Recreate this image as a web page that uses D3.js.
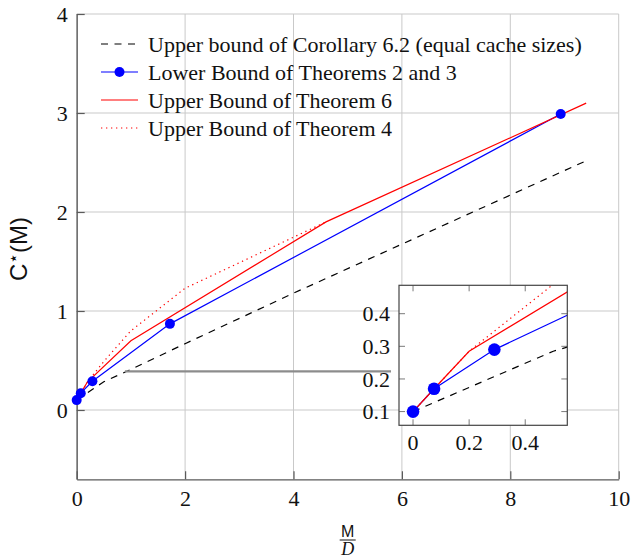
<!DOCTYPE html>
<html>
<head>
<meta charset="utf-8">
<script src="https://cdn.jsdelivr.net/npm/d3@7"></script>
<style>
body{margin:0;background:#fff}
svg{display:block}
.serif{font-family:"Liberation Serif","Times New Roman",serif}
</style>
</head>
<body>
<script>
// values
var xTicks=[0,2,4,6,8,10]
var yTicks=[0,1,2,3,4]
var insetXTicks=[0,0.2,0.4]
var insetYTicks=[0.1,0.2,0.3,0.4]

var dashX=[0,0.5,1,2,4,9.45]
var dashY=[0.1,0.285,0.41,0.67,1.18,2.53]
var blueX=[0,0.075,0.29,1.72,8.93]
var blueY=[0.1,0.17,0.29,0.87,2.99]
var redX=[0,0.075,0.2,1,4.6,9.4]
var redY=[0.1,0.17,0.285,0.70,1.9,3.1]
var dotX=[0,0.075,0.2,0.5,1,2,4.6]
var dotY=[0.1,0.17,0.285,0.49,0.8,1.23,1.9]

var legendNames=["Upper bound of Corollary 6.2 (equal cache sizes)","Lower Bound of Theorems 2 and 3","Upper Bound of Theorem 6","Upper Bound of Theorem 4"]

var zipPts=function(xs,ys){return xs.map(function(d,i){return [d,ys[i]]})}
var series=[
  {pts:zipPts(dashX,dashY),color:"#000",dash:"7,6.5",marker:false},
  {pts:zipPts(blueX,blueY),color:"#0000ff",dash:null,marker:true},
  {pts:zipPts(redX,redY),color:"#ff0000",dash:null,marker:false},
  {pts:zipPts(dotX,dotY),color:"#ff0000",dash:"1.3,3.7",marker:false}
]

var W=632,H=559
var svg=d3.select("body").append("svg").attr("width",W).attr("height",H)

var x=d3.scaleLinear().domain([0,10]).range([76.7,618.7])
var y=d3.scaleLinear().domain([-0.7,4]).range([479.3,14])

var gridColor="#c9c9c9", axisColor="#5a5a5a"

// grid
svg.append("g").selectAll("line").data(xTicks).enter().append("line")
   .attr("x1",function(d){return x(d)}).attr("x2",function(d){return x(d)})
   .attr("y1",y(-0.7)).attr("y2",y(4))
   .attr("stroke",gridColor).attr("stroke-width",1)
svg.append("g").selectAll("line").data(yTicks).enter().append("line")
   .attr("y1",function(d){return y(d)}).attr("y2",function(d){return y(d)})
   .attr("x1",x(0)).attr("x2",x(10))
   .attr("stroke",gridColor).attr("stroke-width",1)

// axes with inward ticks
var xAxis=svg.append("g").attr("transform","translate(0,"+y(-0.7)+")")
   .call(d3.axisBottom(x).tickValues(xTicks).tickFormat(d3.format("d")).tickSizeInner(-8).tickSizeOuter(0).tickPadding(11))
var yAxis=svg.append("g").attr("transform","translate("+x(0)+",0)")
   .call(d3.axisLeft(y).tickValues(yTicks).tickFormat(d3.format("d")).tickSizeInner(-8).tickSizeOuter(0).tickPadding(9))
;[xAxis,yAxis].forEach(function(a){
  a.select(".domain").attr("stroke",axisColor).attr("stroke-width",1.3)
  a.selectAll(".tick line").attr("stroke",axisColor).attr("stroke-width",1.2)
  a.selectAll("text").attr("class","serif").attr("font-size",22).attr("fill","#111")
})
xAxis.selectAll("text").attr("dy","0.71em")
yAxis.selectAll("text").attr("dy","0.35em")

// axis labels
var ylab=svg.append("text").attr("transform","translate(27,249) rotate(-90)")
   .attr("text-anchor","middle").attr("font-family","Liberation Sans, Arial, sans-serif")
   .attr("font-size",24).attr("fill","#111")
ylab.append("tspan").text("C")
ylab.append("tspan").text("⋆").attr("font-family","DejaVu Sans").attr("font-size",17).attr("dy",-8)
ylab.append("tspan").text("(M)").attr("dy",8)

var xm=(x(0)+x(10))/2
svg.append("text").attr("x",xm).attr("y",537).attr("text-anchor","middle")
   .attr("font-family","Liberation Sans, Arial, sans-serif").attr("font-size",16).attr("fill","#111").text("M")
svg.append("line").attr("x1",xm-8).attr("x2",xm+8).attr("y1",540).attr("y2",540)
   .attr("stroke","#111").attr("stroke-width",1)
svg.append("text").attr("x",xm).attr("y",555).attr("text-anchor","middle").attr("class","serif")
   .attr("font-style","italic").attr("font-size",18).attr("fill","#111").text("D")

// main curves
var mainLine=d3.line().x(function(d){return x(d[0])}).y(function(d){return y(d[1])})
var mainG=svg.append("g")
series.forEach(function(s){
  mainG.append("path").attr("d",mainLine(s.pts)).attr("fill","none")
     .attr("stroke",s.color).attr("stroke-width",1.2)
     .attr("stroke-dasharray",s.dash)
})
series.filter(function(s){return s.marker}).forEach(function(s){
  mainG.selectAll(null).data(s.pts).enter().append("circle")
     .attr("cx",function(d){return x(d[0])}).attr("cy",function(d){return y(d[1])})
     .attr("r",5).attr("fill",s.color)
})

// legend
var legend=svg.append("g").attr("transform","translate(101,44)")
legendNames.forEach(function(name,i){
  var s=series[i], g=legend.append("g").attr("transform","translate(0,"+(i*28)+")")
  g.append("line").attr("x1",0).attr("x2",37).attr("y1",0).attr("y2",0)
   .attr("stroke",s.color).attr("stroke-width",1.2).attr("stroke-dasharray",s.dash)
  if(s.marker){g.append("circle").attr("cx",18.5).attr("cy",0).attr("r",5).attr("fill",s.color)}
  g.append("text").attr("x",47).attr("y",8).attr("class","serif").attr("font-size",22)
   .attr("fill","#111").text(name)
})

// inset
var xi=d3.scaleLinear().domain([-0.05,0.55]).range([399,567.3])
var yi=d3.scaleLinear().domain([0.058,0.487]).range([425.3,285.3])

// connector line to inset
svg.append("line").attr("x1",x(0.89)).attr("x2",xi(-0.05)-8)
   .attr("y1",y(0.39)).attr("y2",y(0.39))
   .attr("stroke","#8c8c8c").attr("stroke-width",2.2)

var inset=svg.append("g")
inset.append("rect").attr("x",xi(-0.05)).attr("y",yi(0.487))
   .attr("width",xi(0.55)-xi(-0.05)).attr("height",yi(0.058)-yi(0.487)).attr("fill","#fff")
svg.append("clipPath").attr("id","insetClip").append("rect")
   .attr("x",xi(-0.05)).attr("y",yi(0.487))
   .attr("width",xi(0.55)-xi(-0.05)).attr("height",yi(0.058)-yi(0.487))

var tickCol="#7a7a7a"
var ticksG=inset.append("g")
insetXTicks.forEach(function(t){
  ticksG.append("line").attr("x1",xi(t)).attr("x2",xi(t)).attr("y1",yi(0.058)).attr("y2",yi(0.058)-6).attr("stroke",tickCol)
  ticksG.append("line").attr("x1",xi(t)).attr("x2",xi(t)).attr("y1",yi(0.487)).attr("y2",yi(0.487)+6).attr("stroke",tickCol)
  inset.append("text").attr("x",xi(t)).attr("y",yi(0.058)+17).attr("dy","0.35em").attr("text-anchor","middle")
     .attr("class","serif").attr("font-size",22).attr("fill","#111").text(d3.format("")(t))
})
insetYTicks.forEach(function(t){
  ticksG.append("line").attr("y1",yi(t)).attr("y2",yi(t)).attr("x1",xi(-0.05)).attr("x2",xi(-0.05)+6).attr("stroke",tickCol)
  ticksG.append("line").attr("y1",yi(t)).attr("y2",yi(t)).attr("x1",xi(0.55)).attr("x2",xi(0.55)-6).attr("stroke",tickCol)
  inset.append("text").attr("x",xi(-0.05)-9).attr("y",yi(t)).attr("dy","0.35em").attr("text-anchor","end")
     .attr("class","serif").attr("font-size",22).attr("fill","#111").text(d3.format(".1f")(t))
})

var insetLine=d3.line().x(function(d){return xi(d[0])}).y(function(d){return yi(d[1])})
var curvesG=inset.append("g").attr("clip-path","url(#insetClip)")
series.forEach(function(s){
  curvesG.append("path").attr("d",insetLine(s.pts)).attr("fill","none")
     .attr("stroke",s.color).attr("stroke-width",1.2)
     .attr("stroke-dasharray",s.dash)
})
series.filter(function(s){return s.marker}).forEach(function(s){
  curvesG.selectAll(null).data(s.pts).enter().append("circle")
     .attr("cx",function(d){return xi(d[0])}).attr("cy",function(d){return yi(d[1])})
     .attr("r",6.3).attr("fill",s.color)
})
inset.append("rect").attr("x",xi(-0.05)).attr("y",yi(0.487))
   .attr("width",xi(0.55)-xi(-0.05)).attr("height",yi(0.058)-yi(0.487))
   .attr("fill","none").attr("stroke","#444").attr("stroke-width",1.2)
</script>
</body>
</html>
